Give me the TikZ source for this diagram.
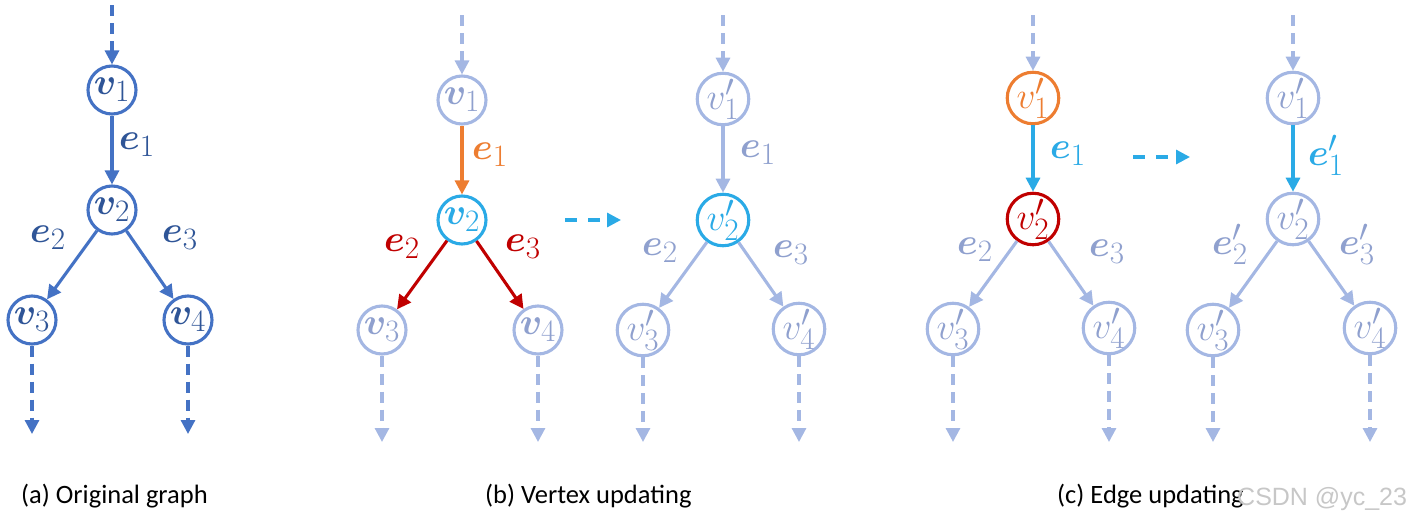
\documentclass[tikz,border=0pt]{standalone}
\usepackage{bm}
\usepackage{graphicx}
\usepackage{fontspec}
\newfontfamily\capfont{Carlito}
\newfontfamily\wmfont{Liberation Sans}
\usetikzlibrary{arrows.meta}
\definecolor{ablue}{HTML}{4472C4}
\definecolor{atext}{HTML}{2F5597}
\definecolor{lightc}{HTML}{A4B7E3}
\definecolor{lighttext}{HTML}{8FA0CE}
\definecolor{orangec}{HTML}{ED7D31}
\definecolor{cyanc}{HTML}{2AAAE6}
\definecolor{dredc}{HTML}{C00000}
\newcommand\mlab[1]{\scalebox{1.5}{$#1$}}
\tikzset{
  vnode/.style={circle,draw,line width=3.1pt,minimum size=48pt,inner sep=0pt,
    font=\fontsize{24.88}{30}\selectfont},
  elabel/.style={inner sep=0pt,font=\fontsize{24.88}{30}\selectfont},
  edge/.style={line width=3.1pt,-{Triangle[length=14pt,width=14pt]}},
  dashedge/.style={edge,dash pattern=on 11pt off 7pt},
  flowarrow/.style={line width=3.1pt,cyanc,dash pattern=on 12pt off 11pt,
    -{Triangle[length=14pt,width=14pt]}},
  caption/.style={anchor=base west,inner sep=0pt,font=\capfont\fontsize{26.5}{30}\selectfont}
}
\begin{document}
\begin{tikzpicture}[x=1pt,y=-1pt]
\useasboundingbox (0,0) rectangle (1407,522);

% ---------- (a) Original graph ----------
\begin{scope}[ablue]
\node[vnode,text=atext] (a1) at (112,90) {\mlab{\bm{v}_1}};
\node[vnode,text=atext] (a2) at (112,210) {\mlab{\bm{v}_2}};
\node[vnode,text=atext] (a3) at (32,320) {\mlab{\bm{v}_3}};
\node[vnode,text=atext] (a4) at (188,320) {\mlab{\bm{v}_4}};
\coordinate (a0) at (112,5);
\coordinate (a3b) at (32,434);
\coordinate (a4b) at (188,434);
\draw[dashedge] (a0) -- (a1);
\draw[edge] (a1) -- (a2);
\draw[edge] (a2) -- (a3);
\draw[edge] (a2) -- (a4);
\draw[dashedge] (a3) -- (a3b);
\draw[dashedge] (a4) -- (a4b);
\node[elabel,text=atext] (ae1) at (137,145) {\mlab{\bm{e}_1}};
\node[elabel,text=atext] (ae2) at (48,238) {\mlab{\bm{e}_2}};
\node[elabel,text=atext] (ae3) at (180,238) {\mlab{\bm{e}_3}};
\end{scope}

% ---------- (b) Vertex updating, left ----------
\node[vnode,lightc,text=lighttext] (b1) at (462,100) {\mlab{\bm{v}_1}};
\node[vnode,cyanc] (b2) at (462,220) {\mlab{\bm{v}_2}};
\node[vnode,lightc,text=lighttext] (b3) at (382,330) {\mlab{\bm{v}_3}};
\node[vnode,lightc,text=lighttext] (b4) at (538,330) {\mlab{\bm{v}_4}};
\coordinate (b0) at (462,15);
\coordinate (b3b) at (382,442);
\coordinate (b4b) at (538,442);
\draw[dashedge,lightc] (b0) -- (b1);
\draw[edge,orangec] (b1) -- (b2);
\draw[edge,dredc] (b2) -- (b3);
\draw[edge,dredc] (b2) -- (b4);
\draw[dashedge,lightc] (b3) -- (b3b);
\draw[dashedge,lightc] (b4) -- (b4b);
\node[elabel,orangec] (be1) at (490,155) {\mlab{\bm{e}_1}};
\node[elabel,dredc] (be2) at (402,247) {\mlab{\bm{e}_2}};
\node[elabel,dredc] (be3) at (523,247) {\mlab{\bm{e}_3}};

\coordinate (bfs) at (565,220);
\coordinate (bfe) at (621,220);
\draw[flowarrow] (bfs) -- (bfe);

% ---------- (b) Vertex updating, right ----------
\node[vnode,lightc,text=lighttext] (p1) at (723,99) {\mlab{v'_1}};
\node[vnode,cyanc] (p2) at (723,220) {\mlab{v'_2}};
\node[vnode,lightc,text=lighttext] (p3) at (643,330) {\mlab{v'_3}};
\node[vnode,lightc,text=lighttext] (p4) at (799,329) {\mlab{v'_4}};
\coordinate (p0) at (723,15);
\coordinate (p3b) at (643,442);
\coordinate (p4b) at (799,442);
\draw[dashedge,lightc] (p0) -- (p1);
\draw[edge,lightc] (p1) -- (p2);
\draw[edge,lightc] (p2) -- (p3);
\draw[edge,lightc] (p2) -- (p4);
\draw[dashedge,lightc] (p3) -- (p3b);
\draw[dashedge,lightc] (p4) -- (p4b);
\node[elabel,lighttext] (pe1) at (758,153) {\mlab{\bm{e}_1}};
\node[elabel,lighttext] (pe2) at (660,251) {\mlab{\bm{e}_2}};
\node[elabel,lighttext] (pe3) at (791,253) {\mlab{\bm{e}_3}};

% ---------- (c) Edge updating, left ----------
\node[vnode,orangec] (c1) at (1033,98) {\mlab{v'_1}};
\node[vnode,dredc] (c2) at (1033,219) {\mlab{v'_2}};
\node[vnode,lightc,text=lighttext] (c3) at (953,329) {\mlab{v'_3}};
\node[vnode,lightc,text=lighttext] (c4) at (1109,328) {\mlab{v'_4}};
\coordinate (c0) at (1033,15);
\coordinate (c3b) at (953,442);
\coordinate (c4b) at (1109,442);
\draw[dashedge,lightc] (c0) -- (c1);
\draw[edge,cyanc] (c1) -- (c2);
\draw[edge,lightc] (c2) -- (c3);
\draw[edge,lightc] (c2) -- (c4);
\draw[dashedge,lightc] (c3) -- (c3b);
\draw[dashedge,lightc] (c4) -- (c4b);
\node[elabel,cyanc] (ce1) at (1068,154) {\mlab{\bm{e}_1}};
\node[elabel,lighttext] (ce2) at (975,250) {\mlab{\bm{e}_2}};
\node[elabel,lighttext] (ce3) at (1107,252) {\mlab{\bm{e}_3}};

\coordinate (cfs) at (1133,157);
\coordinate (cfe) at (1190,157);
\draw[flowarrow] (cfs) -- (cfe);

% ---------- (c) Edge updating, right ----------
\node[vnode,lightc,text=lighttext] (q1) at (1293,98) {\mlab{v'_1}};
\node[vnode,lightc,text=lighttext] (q2) at (1293,219) {\mlab{v'_2}};
\node[vnode,lightc,text=lighttext] (q3) at (1213,330) {\mlab{v'_3}};
\node[vnode,lightc,text=lighttext] (q4) at (1370,328) {\mlab{v'_4}};
\coordinate (q0) at (1293,15);
\coordinate (q3b) at (1213,442);
\coordinate (q4b) at (1370,442);
\draw[dashedge,lightc] (q0) -- (q1);
\draw[edge,cyanc] (q1) -- (q2);
\draw[edge,lightc] (q2) -- (q3);
\draw[edge,lightc] (q2) -- (q4);
\draw[dashedge,lightc] (q3) -- (q3b);
\draw[dashedge,lightc] (q4) -- (q4b);
\node[elabel,cyanc] (qe1) at (1326,155) {\mlab{\bm{e}'_1}};
\node[elabel,lighttext] (qe2) at (1230,244) {\mlab{\bm{e}'_2}};
\node[elabel,lighttext] (qe3) at (1357,244) {\mlab{\bm{e}'_3}};

% ---------- captions ----------
\node[caption] (capa) at (21,503) {(a) Original graph};
\node[caption] (capb) at (485,503) {(b) Vertex updating};
\node[caption] (capc) at (1057,503) {(c) Edge updating};
\node[anchor=base west,inner sep=0pt,font=\wmfont\fontsize{25}{30}\selectfont,text=black!22] (wm) at (1237,505) {CSDN @yc\_23};
\end{tikzpicture}
\end{document}
